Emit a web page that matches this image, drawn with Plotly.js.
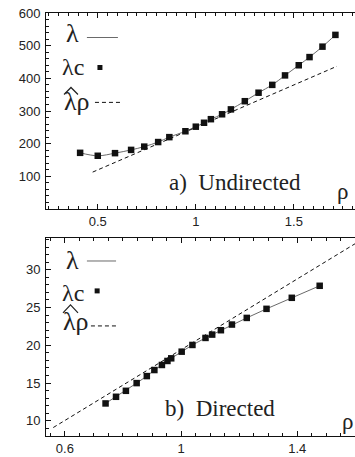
<!DOCTYPE html>
<html>
<head>
<meta charset="utf-8">
<script src="https://cdn.plot.ly/plotly-3.0.1.min.js"></script>
<style>
html,body{margin:0;padding:0;overflow:hidden;background:#fff;}
#chart{width:356px;height:457px;}
</style>
</head>
<body>
<div id="chart"></div>
<script>
// ---- Panel a) Undirected ----
const rhoUndirected = [0.41, 0.50, 0.588, 0.67, 0.737, 0.808, 0.865, 0.947, 1.0, 1.042, 1.077, 1.134, 1.179, 1.25, 1.32, 1.39, 1.455, 1.525, 1.58, 1.646, 1.712];
const lambdaCUndirected = [172, 163, 171, 181, 191, 205, 220, 238, 252, 264, 275, 290, 305, 330, 356, 380, 409, 440, 465, 497, 533];
const hatRhoUndirected = [0.474, 1.72];
const hatLambdaUndirected = [113, 437];

// ---- Panel b) Directed ----
const rhoDirected = [0.74, 0.776, 0.81, 0.847, 0.882, 0.908, 0.934, 0.953, 0.966, 1.002, 1.039, 1.084, 1.107, 1.137, 1.175, 1.226, 1.294, 1.381, 1.477];
const lambdaCDirected = [12.31, 13.19, 13.98, 15.0, 15.93, 16.73, 17.4, 17.93, 18.28, 19.16, 20.05, 20.98, 21.42, 22.0, 22.75, 23.63, 24.83, 26.29, 27.88];
const hatRhoDirected = [0.56, 1.62];
const hatLambdaDirected = [9.12, 33.94];

// tick labels
const xTicksTop = [0.5, 1, 1.5];
const xTickTextTop = ['0.5', '1', '1.5'];
const yTicksTop = [100, 200, 300, 400, 500, 600];
const xTicksBottom = [0.6, 1, 1.4];
const xTickTextBottom = ['0.6', '1', '1.4'];
const yTicksBottom = [10, 15, 20, 25, 30];

const lineGray = '#6a6a6a';
const markBlack = '#111';

const traces = [
  {x: rhoUndirected, y: lambdaCUndirected, mode: 'lines', line: {color: lineGray, width: 1, shape: 'spline', smoothing: 1}, xaxis: 'x', yaxis: 'y'},
  {x: hatRhoUndirected, y: hatLambdaUndirected, mode: 'lines', line: {color: '#111', width: 1, dash: '4px,3px'}, xaxis: 'x', yaxis: 'y'},
  {x: rhoUndirected, y: lambdaCUndirected, mode: 'markers', marker: {symbol: 'square', size: 6.5, color: markBlack}, xaxis: 'x', yaxis: 'y', cliponaxis: false},
  {x: rhoDirected, y: lambdaCDirected, mode: 'lines', line: {color: lineGray, width: 1}, xaxis: 'x2', yaxis: 'y2'},
  {x: hatRhoDirected, y: hatLambdaDirected, mode: 'lines', line: {color: '#111', width: 1, dash: '4px,3px'}, xaxis: 'x2', yaxis: 'y2'},
  {x: rhoDirected, y: lambdaCDirected, mode: 'markers', marker: {symbol: 'square', size: 6.5, color: markBlack}, xaxis: 'x2', yaxis: 'y2', cliponaxis: false}
];

const tickFont = {family: '"Liberation Sans", Arial, sans-serif', size: 13, color: '#222'};
const axisCommon = {
  showline: true, linecolor: '#111', linewidth: 1, showgrid: false, zeroline: false,
  ticks: 'inside', ticklen: 5, tickcolor: '#111', tickwidth: 1, tickfont: tickFont
};

const serif = '"Liberation Serif", "Times New Roman", serif';
function ann(text, xref, yref, x, y, size) {
  return {text: text, xref: xref, yref: yref, x: x, y: y, showarrow: false,
    xanchor: 'center', yanchor: 'middle', font: {family: serif, size: size, color: '#222'}};
}

const layout = {
  width: 356, height: 457,
  margin: {l: 46, r: 0, t: 13, b: 21},
  paper_bgcolor: '#fff', plot_bgcolor: '#fff',
  showlegend: false,
  xaxis: Object.assign({}, axisCommon, {domain: [0, 1], anchor: 'y', range: [0.236, 1.817], mirror: 'allticks',
    tickmode: 'array', tickvals: xTicksTop, ticktext: xTickTextTop,
    minor: {dtick: 0.05, tick0: 0, ticks: 'inside', ticklen: 3, tickcolor: '#111'}}),
  yaxis: Object.assign({}, axisCommon, {domain: [0.5366, 1], anchor: 'x', range: [0, 600],
    tickmode: 'array', tickvals: yTicksTop, ticklabelstandoff: 2,
    minor: {dtick: 20, tick0: 0, ticks: 'inside', ticklen: 3, tickcolor: '#111'}}),
  xaxis2: Object.assign({}, axisCommon, {domain: [0, 1], anchor: 'y2', range: [0.535, 1.602], mirror: 'allticks',
    tickmode: 'array', tickvals: xTicksBottom, ticktext: xTickTextBottom,
    minor: {dtick: 0.05, tick0: 0, ticks: 'inside', ticklen: 3, tickcolor: '#111'}}),
  yaxis2: Object.assign({}, axisCommon, {domain: [0, 0.468], anchor: 'x2', range: [8.0, 34.2],
    tickmode: 'array', tickvals: yTicksBottom, ticklabelstandoff: 2,
    minor: {dtick: 1, tick0: 0, ticks: 'inside', ticklen: 3, tickcolor: '#111'}}),
  annotations: [
    ann('λ', 'x domain', 'y domain', 0.084, 0.893, 26),
    ann('λc', 'x domain', 'y domain', 0.087, 0.727, 24),
    ann('λρ', 'x domain', 'y domain', 0.10, 0.548, 26),
    ann('a)  Undirected', 'x domain', 'y domain', 0.611, 0.136, 23),
    ann('ρ', 'x domain', 'y domain', 0.958, 0.09, 23),
    ann('λ', 'x2 domain', 'y2 domain', 0.084, 0.885, 26),
    ann('λc', 'x2 domain', 'y2 domain', 0.087, 0.722, 24),
    ann('λρ', 'x2 domain', 'y2 domain', 0.097, 0.578, 26),
    ann('b)  Directed', 'x2 domain', 'y2 domain', 0.56, 0.139, 23),
    ann('ρ', 'x2 domain', 'y2 domain', 0.974, 0.074, 23)
  ],
  shapes: [
    {type: 'line', xref: 'x domain', yref: 'y domain', x0: 0.132, x1: 0.232, y0: 0.875, y1: 0.875, line: {color: lineGray, width: 1}},
    {type: 'rect', xref: 'x domain', yref: 'y domain', xsizemode: 'pixel', ysizemode: 'pixel', xanchor: 0.174, yanchor: 0.722, x0: -2.5, x1: 2.5, y0: -2.5, y1: 2.5, fillcolor: markBlack, line: {width: 0}},
    {type: 'line', xref: 'x domain', yref: 'y domain', x0: 0.158, x1: 0.245, y0: 0.544, y1: 0.544, line: {color: '#111', width: 1, dash: '4px,3px'}},
    {type: 'path', xref: 'x domain', yref: 'y domain', path: 'M 0.0581 0.5844 L 0.0806 0.6201 L 0.1032 0.5844', line: {color: '#222', width: 1.2}},
    {type: 'line', xref: 'x2 domain', yref: 'y2 domain', x0: 0.132, x1: 0.226, y0: 0.884, y1: 0.884, line: {color: lineGray, width: 1}},
    {type: 'rect', xref: 'x2 domain', yref: 'y2 domain', xsizemode: 'pixel', ysizemode: 'pixel', xanchor: 0.165, yanchor: 0.733, x0: -2.5, x1: 2.5, y0: -2.5, y1: 2.5, fillcolor: markBlack, line: {width: 0}},
    {type: 'line', xref: 'x2 domain', yref: 'y2 domain', x0: 0.145, x1: 0.232, y0: 0.556, y1: 0.556, line: {color: '#111', width: 1, dash: '4px,3px'}},
    {type: 'path', xref: 'x2 domain', yref: 'y2 domain', path: 'M 0.0548 0.6216 L 0.079 0.6621 L 0.1032 0.6216', line: {color: '#222', width: 1.2}}
  ]
};

Plotly.newPlot('chart', traces, layout, {staticPlot: true, displayModeBar: false});
</script>
</body>
</html>
